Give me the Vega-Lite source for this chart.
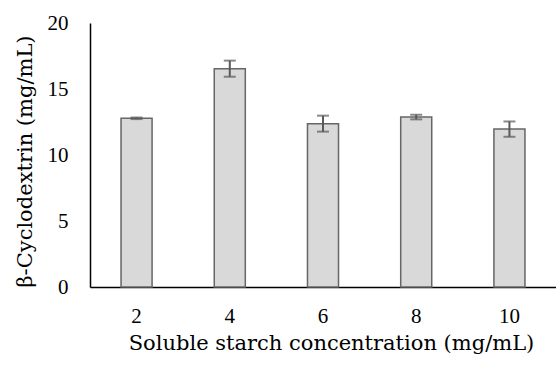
{
  "$schema": "https://vega.github.io/schema/vega-lite/v6.json",
  "width": 466,
  "height": 264,
  "autosize": {"type": "none"},
  "padding": {"left": 90, "top": 23, "right": 0, "bottom": 80},
  "background": "white",
  "config": {
    "view": {"stroke": null},
    "font": "Liberation Serif",
    "axis": {"labelFont": "Liberation Serif", "titleFont": "DejaVu Serif", "labelFontSize": 21, "labelColor": "#000000"}
  },
  "data": {
    "values": [
      {"conc": "2", "value": 12.78, "lo": 12.72, "hi": 12.84},
      {"conc": "4", "value": 16.54, "lo": 15.93, "hi": 17.15},
      {"conc": "6", "value": 12.37, "lo": 11.77, "hi": 12.98},
      {"conc": "8", "value": 12.88, "lo": 12.70, "hi": 13.05},
      {"conc": "10", "value": 11.97, "lo": 11.38, "hi": 12.54}
    ]
  },
  "encoding": {
    "x": {
      "field": "conc",
      "type": "ordinal",
      "sort": null,
      "scale": {"paddingInner": 0.667, "paddingOuter": 0.333},
      "axis": {
        "title": "Soluble starch concentration (mg/mL)",
        "titleFontSize": 21,
        "titleFontWeight": "normal",
        "titleColor": "#000000",
        "titleX": 241,
        "titlePadding": 6,
        "labelFontSize": 21,
        "labelAngle": 0,
        "labelPadding": 18,
        "ticks": false,
        "domainColor": "#000000",
        "domainWidth": 1.5,
        "grid": false
      }
    }
  },
  "layer": [
    {
      "mark": {"type": "bar", "fill": "#d9d9d9", "stroke": "#666666", "strokeWidth": 1.5},
      "encoding": {
        "y": {
          "field": "value",
          "type": "quantitative",
          "scale": {"domain": [0, 20]},
          "axis": {
            "title": "β-Cyclodextrin (mg/mL)",
            "titleFontSize": 21,
            "titleFontWeight": "normal",
            "titleColor": "#000000",
            "titleY": 138,
            "titlePadding": 12,
            "labelFontSize": 21,
            "labelPadding": 22,
            "values": [0, 5, 10, 15, 20],
            "ticks": false,
            "grid": false,
            "domainColor": "#000000",
            "domainWidth": 1.5
          }
        }
      }
    },
    {
      "mark": {"type": "rule", "color": "#595959", "strokeWidth": 2},
      "encoding": {
        "y": {"field": "lo", "type": "quantitative"},
        "y2": {"field": "hi"}
      }
    },
    {
      "mark": {"type": "tick", "color": "#595959", "thickness": 2, "size": 12, "orient": "horizontal"},
      "encoding": {
        "y": {"field": "lo", "type": "quantitative"}
      }
    },
    {
      "mark": {"type": "tick", "color": "#595959", "thickness": 2, "size": 12, "orient": "horizontal"},
      "encoding": {
        "y": {"field": "hi", "type": "quantitative"}
      }
    }
  ]
}
